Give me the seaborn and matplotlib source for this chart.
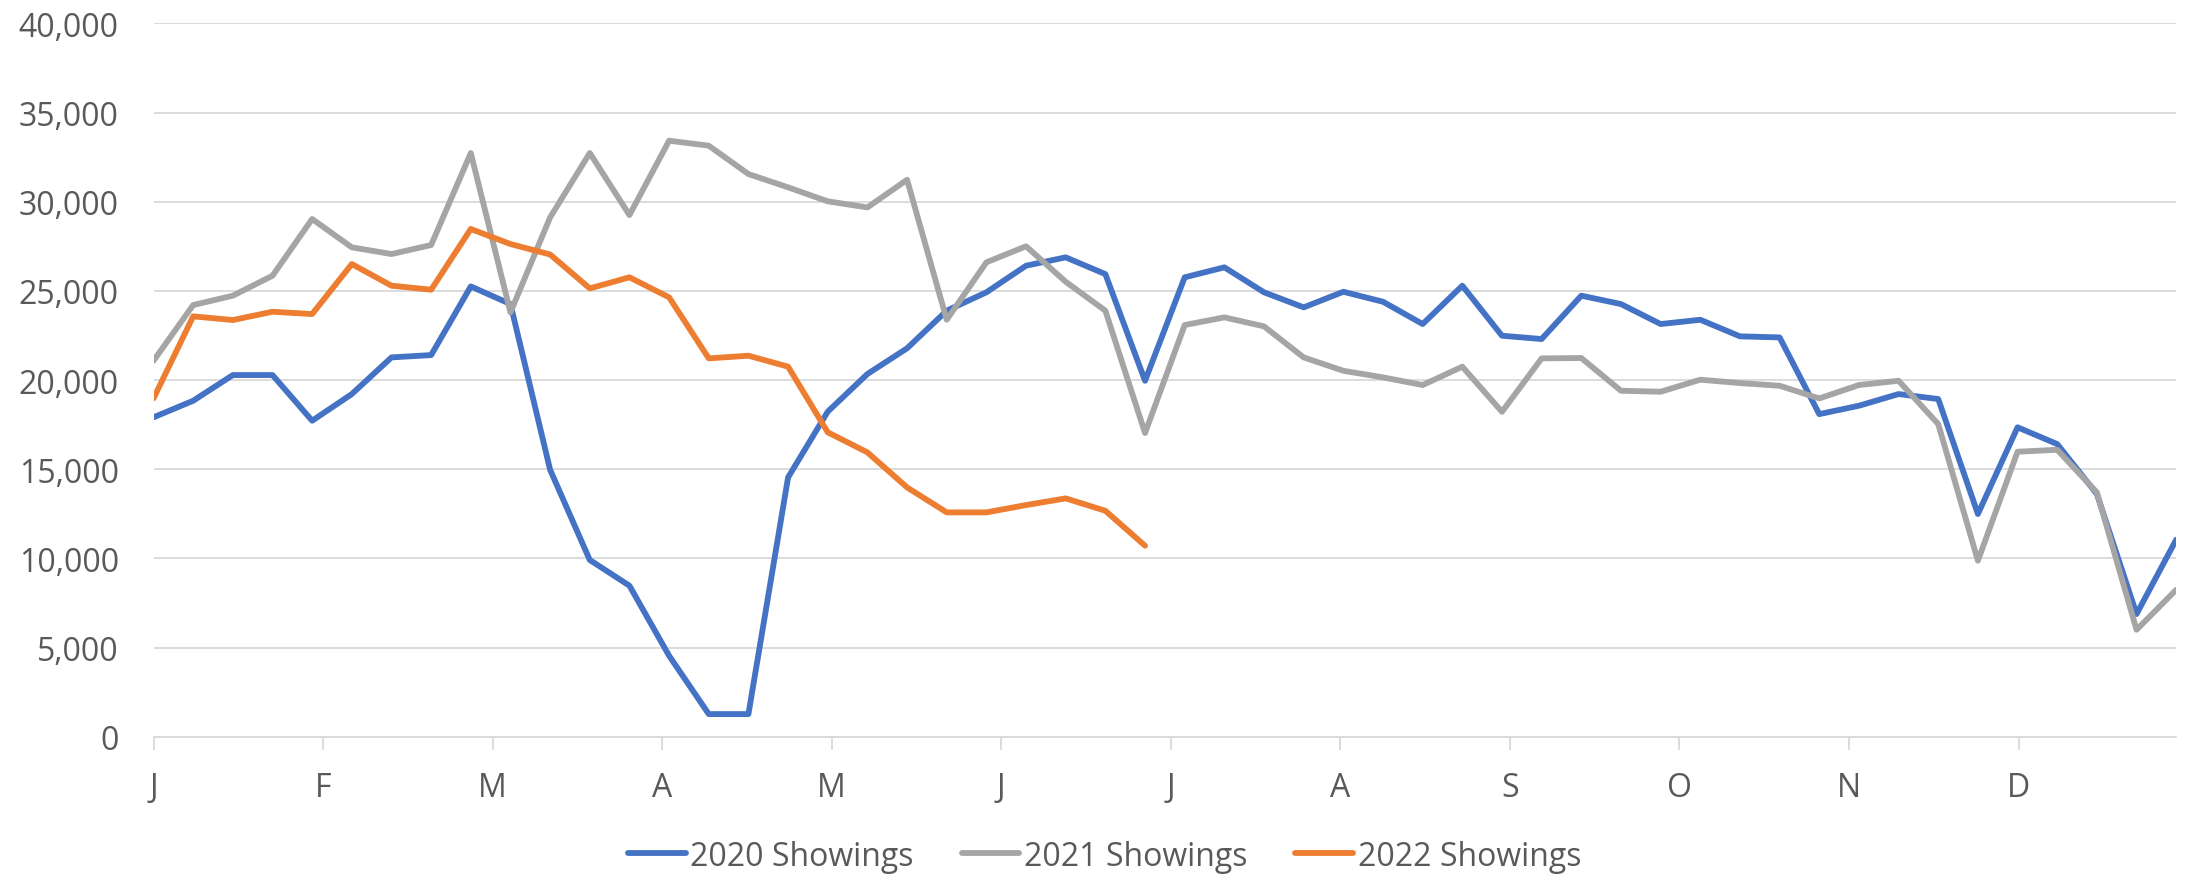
import pandas as pd
import numpy as np
import matplotlib
matplotlib.use("Agg")
import matplotlib.pyplot as plt
import seaborn as sns
from matplotlib.ticker import FuncFormatter

# weekly showings (52 weeks)
showings_2020 = [17910, 18840, 20280, 20280, 17720, 19215, 21270, 21400, 25250, 24260,
                 14970, 9910, 8470, 4540, 1270, 1270, 14540, 18230, 20340, 21780,
                 23890, 24920, 26410, 26880, 25940, 19960, 25760, 26320, 24920, 24075,
                 24950, 24390, 23140, 25290, 22485, 22300, 24730, 24260, 23140, 23380,
                 22450, 22390, 18090, 18560, 19215, 18935, 12490, 17350, 16410, 13610,
                 6880, 11050]
showings_2021 = [21080, 24205, 24730, 25850, 29030, 27440, 27065, 27570, 32730, 23795,
                 29120, 32730, 29250, 33420, 33140, 31550, 30805, 30020, 29680, 31230,
                 23380, 26600, 27500, 25510, 23890, 17030, 23085, 23515, 23010, 21270,
                 20520, 20150, 19720, 20750, 18220, 21215, 21235, 19400, 19345, 20020,
                 19830, 19680, 18970, 19720, 19960, 17530, 9870, 15980, 16090, 13700,
                 6000, 8240]
showings_2022 = [18970, 23570, 23365, 23830, 23700, 26505, 25290, 25065, 28470, 27625,
                 27040, 25140, 25760, 24635, 21215, 21365, 20750, 17070, 15945, 13980,
                 12580, 12580, 12990, 13365, 12670, 10710]

series_names = ["2020 Showings", "2021 Showings", "2022 Showings"]
month_labels = ["J", "F", "M", "A", "M", "J", "J", "A", "S", "O", "N", "D"]

rows = []
for name, vals in zip(series_names, [showings_2020, showings_2021, showings_2022]):
    for wk, v in enumerate(vals):
        rows.append({"Week": wk, "Showings": v, "Series": name})
df = pd.DataFrame(rows)

sns.set_theme(style="white")
plt.rcParams["font.family"] = ["Open Sans", "DejaVu Sans"]

palette = {"2020 Showings": "#4472C4", "2021 Showings": "#A5A5A5", "2022 Showings": "#ED7D31"}

fig = plt.figure(figsize=(21.9, 8.79), dpi=100)
ax = fig.add_axes([0.0701, 0.1607, 0.9236, 0.8116])

sns.lineplot(data=df, x="Week", y="Showings", hue="Series", hue_order=series_names,
             palette=palette, estimator=None, ax=ax)

lw = 4.2
for line in ax.lines:
    line.set_linewidth(lw)
    line.set_solid_joinstyle("round")
    line.set_solid_capstyle("round")

ax.set_xlim(0, len(showings_2020) - 1)
ax.set_ylim(0, 40000)
ax.set_yticks(np.arange(0, 40001, 5000))
ax.yaxis.set_major_formatter(FuncFormatter(lambda v, p: f"{int(v):,}"))

month_step = 4.275
ax.set_xticks([i * month_step for i in range(12)])
ax.set_xticklabels(month_labels)

ax.grid(axis="y", color="#D9D9D9", linewidth=1.3)
ax.set_axisbelow(True)
for s in ["top", "right", "left"]:
    ax.spines[s].set_visible(False)
ax.spines["bottom"].set_color("#D9D9D9")
ax.spines["bottom"].set_linewidth(1.3)

ax.tick_params(axis="y", length=0, pad=25, labelsize=23, labelcolor="#595959")
ax.tick_params(axis="x", length=9, width=1.3, color="#D9D9D9", pad=16,
               labelsize=23, labelcolor="#595959", bottom=True)
ax.set_xlabel("")
ax.set_ylabel("")

handles, labels = ax.get_legend_handles_labels()
ax.get_legend().remove()
for h in handles:
    h.set_linewidth(lw)
fig.legend(handles, labels, loc="center", bbox_to_anchor=(0.5044, 0.025), ncol=3,
           frameon=False, fontsize=23, labelcolor="#595959",
           handlelength=1.8, handletextpad=0.15, columnspacing=1.5)

fig.savefig("out.png", dpi=100)
